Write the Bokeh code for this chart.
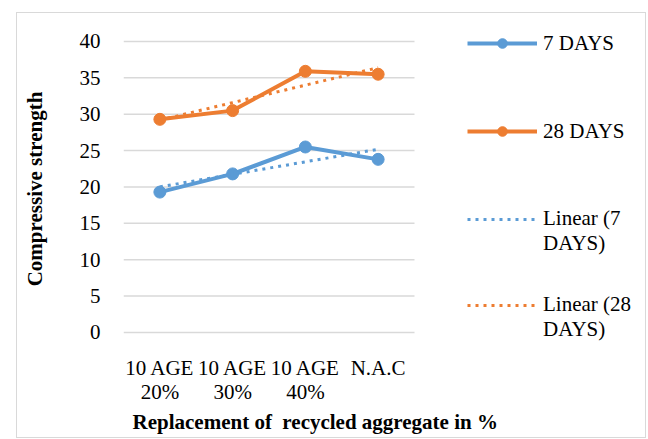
import numpy as np
from bokeh.plotting import figure
from bokeh.models import Legend, LegendItem, Title, FixedTicker
from bokeh.embed import file_html
from bokeh.resources import INLINE

categories = ["10 AGE\n20%", "10 AGE\n30%", "10 AGE\n40%", "N.A.C"]
days7 = [19.3, 21.8, 25.5, 23.8]
days28 = [29.3, 30.5, 35.9, 35.5]
y_ticks = [0, 5, 10, 15, 20, 25, 30, 35, 40]

BLUE = "#5b9bd5"
ORANGE = "#ed7d31"
FONT = "Liberation Serif"
FS = "21px"

pos = list(range(1, len(categories) + 1))
k7, b7 = np.polyfit(pos, days7, 1)
k28, b28 = np.polyfit(pos, days28, 1)
trend7 = [k7 * x + b7 for x in pos]
trend28 = [k28 * x + b28 for x in pos]

# frame spans the data area plus the legend area on the right
p = figure(x_range=(0.5, 7.6065), y_range=(-2.062, 41.512), width=630, height=426,
           output_backend="svg", toolbar_location=None,
           min_border_left=106, min_border_right=7,
           min_border_top=17, min_border_bottom=92)
p.margin = (12, 0, 0, 16)
p.styles = {"border": "1px solid #d9d9d9"}
p.outline_line_color = None
p.background_fill_color = "white"
p.border_fill_color = "white"

p.xgrid.grid_line_color = None
p.ygrid.grid_line_color = None
p.segment(x0=0.5, x1=len(categories) + 0.5, y0=y_ticks, y1=y_ticks,
          line_color="#d9d9d9", line_width=1.5)

p.yaxis.ticker = FixedTicker(ticks=y_ticks)
p.xaxis.ticker = FixedTicker(ticks=pos)
p.xaxis.major_label_overrides = {x: c for x, c in zip(pos, categories)}

for ax in (p.xaxis[0], p.yaxis[0]):
    ax.axis_line_color = None
    ax.major_tick_line_color = None
    ax.minor_tick_line_color = None
    ax.major_tick_in = 0
    ax.major_tick_out = 0
    ax.major_label_text_font = FONT
    ax.major_label_text_font_size = FS
    ax.major_label_text_color = "black"

p.xaxis.major_label_text_line_height = 1.0
p.yaxis.major_label_standoff = 23
p.xaxis.major_label_standoff = 8
p.yaxis.axis_label = "Compressive strength"
p.yaxis.axis_label_text_font = FONT
p.yaxis.axis_label_text_font_size = FS
p.yaxis.axis_label_text_font_style = "bold"
p.yaxis.axis_label_text_color = "black"
p.yaxis.axis_label_standoff = 30

t = Title(text="Replacement of\u00a0 recycled aggregate in %", align="left", offset=9,
          text_font=FONT, text_font_size=FS, text_font_style="bold",
          text_color="black", standoff=2)
p.add_layout(t, "below")

l7 = p.line(pos, days7, line_color=BLUE, line_width=4)
s7 = p.scatter(pos, days7, size=12, fill_color=BLUE, line_color=BLUE)
l28 = p.line(pos, days28, line_color=ORANGE, line_width=4)
s28 = p.scatter(pos, days28, size=12, fill_color=ORANGE, line_color=ORANGE)
t7 = p.line(pos, trend7, line_color=BLUE, line_width=3, line_dash="3 5")
t28 = p.line(pos, trend28, line_color=ORANGE, line_width=3, line_dash="3 5")
dummy = p.line(x=[], y=[], line_alpha=0)


def make_legend(items, loc):
    lg = Legend(items=items, location=loc, glyph_width=70, glyph_height=24,
                label_height=24, label_standoff=6, spacing=0, padding=0, margin=0,
                label_text_font=FONT, label_text_font_size=FS,
                label_text_color="black", background_fill_alpha=0,
                border_line_alpha=0)
    p.add_layout(lg, "center")


make_legend([LegendItem(label="7 DAYS", renderers=[l7, s7])], (344, 291.4))
make_legend([LegendItem(label="28 DAYS", renderers=[l28, s28])], (344, 203.4))
make_legend([LegendItem(label="Linear (7", renderers=[t7]),
             LegendItem(label="DAYS)", renderers=[dummy])], (344, 90.8))
make_legend([LegendItem(label="Linear (28", renderers=[t28]),
             LegendItem(label="DAYS)", renderers=[dummy])], (344, 4.8))

open("out.html", "w").write(file_html(p, INLINE))
